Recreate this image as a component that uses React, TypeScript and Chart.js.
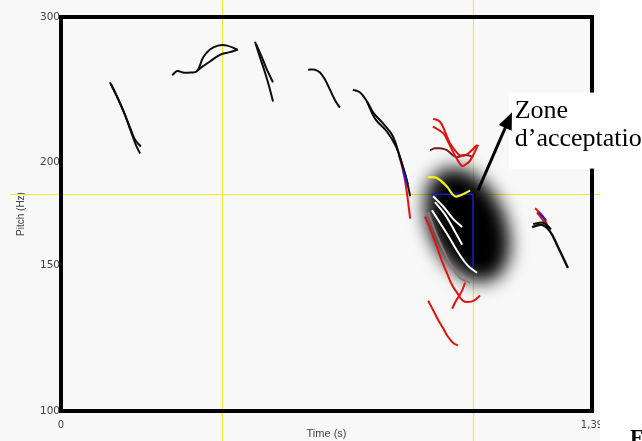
import React, { useEffect, useRef } from "react";
import { Chart, registerables } from "chart.js";

Chart.register(...registerables);

type P = [number, number];

// ---- axis ticks ----
const timeTicks = [0, 1.39];
const timeTickLabels = ["0", "1,39"];
const pitchTicks = [100, 150, 200, 300];
const pitchTickLabels = ["100", "150", "200", "300"];

// ---- guide values ----
const guideTimes = [0.4215, 1.0785];
const guidePitch = 183;
const zoneCenter: P = [1.064, 168];
const zoneEdgeH: P[] = [[0.97, 183], [1.0785, 183]];
const zoneEdgeV: P[] = [[1.0785, 183], [1.0785, 149]];
const arrowFrom: P = [1.0916, 185];
const arrowTo: P = [1.1806, 230];
const labelBoxCorner: P = [1.172, 243];
const labelLines = ["Zone", "d\u2019acceptatio"];

// ---- pitch contours (time s, pitch Hz) ----
const contour1a: P[] = [[0.128, 250], [0.147, 240], [0.165, 230], [0.183, 218], [0.196, 210], [0.207, 205]];
const contour1b: P[] = [[0.131, 249], [0.149, 239], [0.168, 228], [0.183, 219], [0.194, 213], [0.209, 209]];
const contour2a: P[] = [[0.291, 255], [0.304, 258], [0.319, 257], [0.338, 257], [0.356, 258], [0.372, 268], [0.39, 274], [0.411, 277], [0.435, 277], [0.461, 274]];
const contour2b: P[] = [[0.356, 258], [0.364, 260], [0.39, 265], [0.416, 270], [0.442, 272], [0.463, 274]];
const contour3a: P[] = [[0.508, 280], [0.521, 268], [0.534, 257], [0.545, 247], [0.555, 237]];
const contour3b: P[] = [[0.511, 278], [0.526, 268], [0.539, 259], [0.555, 250]];
const contour4: P[] = [[0.647, 259], [0.665, 259], [0.678, 257], [0.691, 252], [0.704, 245], [0.717, 238], [0.73, 233]];
const contour5a: P[] = [[0.764, 245], [0.783, 243], [0.801, 237], [0.817, 230], [0.843, 223], [0.869, 215], [0.887, 203], [0.903, 192], [0.914, 182]];
const contour5b: P[] = [[0.801, 237], [0.822, 226], [0.853, 218], [0.877, 209], [0.893, 199], [0.908, 188]];
const contour5red: P[] = [[0.885, 204], [0.898, 193], [0.906, 183], [0.914, 171]];
const contour5blue: P[] = [[0.895, 196], [0.906, 188]];

const redA: P[] = [[0.974, 226], [0.992, 224], [1.005, 218], [1.018, 211], [1.031, 207], [1.044, 204], [1.058, 204], [1.071, 206], [1.089, 210]];
const redB: P[] = [[0.974, 221], [1.0, 217], [1.013, 212], [1.026, 206], [1.039, 201], [1.05, 198], [1.06, 199], [1.071, 201], [1.092, 210]];
const darkRedC: P[] = [[0.966, 207], [0.979, 208], [0.992, 208], [1.01, 207], [1.026, 204], [1.039, 203], [1.052, 204], [1.065, 204], [1.079, 203]];
const yellowTarget: P[] = [[0.961, 192], [0.984, 191.5], [1.01, 187], [1.031, 182], [1.052, 183], [1.071, 185]];
const white1: P[] = [[0.974, 182], [1.0, 177], [1.026, 171], [1.05, 167]];
const white2: P[] = [[0.979, 179], [1.005, 173], [1.031, 165], [1.05, 159]];
const white3: P[] = [[0.971, 175], [0.992, 169], [1.01, 164], [1.044, 154.5], [1.065, 150], [1.089, 147]];
const grayCurve: P[] = [[0.961, 174], [0.987, 162], [1.018, 151], [1.044, 145], [1.071, 143]];
const redD: P[] = [[0.953, 172], [0.969, 165], [0.984, 158], [0.997, 152], [1.01, 147], [1.024, 142], [1.037, 139], [1.052, 136], [1.065, 135.5], [1.081, 136], [1.097, 138]];
const redE: P[] = [[1.058, 143], [1.047, 139], [1.034, 136], [1.024, 133]];
const redF: P[] = [[0.961, 136], [0.974, 132.5], [0.987, 129], [1.0, 126], [1.013, 123], [1.026, 121], [1.039, 120]];

const lastA: P[] = [[1.233, 167], [1.259, 168], [1.28, 165], [1.301, 158], [1.327, 149]];
const lastB: P[] = [[1.236, 168.4], [1.262, 169], [1.283, 166]];
const lastRed1: P[] = [[1.241, 176], [1.262, 172], [1.275, 167]];
const lastRed2: P[] = [[1.246, 174], [1.267, 169]];
const lastBlue: P[] = [[1.251, 174], [1.27, 170]];

const BLACK = "#0d0d0d";
const RED = "#e2120f";
const DARKRED = "#7e1a1a";
const GRAY = "#8c7676";
const WHITE = "#ffffff";
const YELLOW = "#f4ee1c";
const BLUE = "#1b1bd0";
const GUIDE = "#eded2a";

const seriesList: { data: P[]; color: string; width: number }[] = [
  { data: yellowTarget, color: YELLOW, width: 2.2 },
  { data: white1, color: WHITE, width: 2 },
  { data: white2, color: WHITE, width: 2 },
  { data: white3, color: WHITE, width: 2 },
  { data: grayCurve, color: GRAY, width: 2 },
  { data: redA, color: RED, width: 2 },
  { data: redB, color: RED, width: 2 },
  { data: darkRedC, color: DARKRED, width: 2 },
  { data: redD, color: RED, width: 2 },
  { data: redE, color: RED, width: 2 },
  { data: redF, color: RED, width: 2 },
  { data: contour1a, color: BLACK, width: 2 },
  { data: contour1b, color: BLACK, width: 2 },
  { data: contour2a, color: BLACK, width: 2 },
  { data: contour2b, color: BLACK, width: 2 },
  { data: contour3a, color: BLACK, width: 2 },
  { data: contour3b, color: BLACK, width: 2 },
  { data: contour4, color: BLACK, width: 2 },
  { data: contour5blue, color: BLUE, width: 2 },
  { data: contour5a, color: BLACK, width: 2 },
  { data: contour5b, color: BLACK, width: 2 },
  { data: contour5red, color: RED, width: 2 },
  { data: lastA, color: BLACK, width: 2.4 },
  { data: lastB, color: BLACK, width: 2 },
  { data: lastBlue, color: BLUE, width: 2 },
  { data: lastRed1, color: RED, width: 2 },
  { data: lastRed2, color: RED, width: 2 },
];

const W = 642;
const H = 441;
const SHOT_RIGHT = 600;

const backgroundPlugin = {
  id: "bgFill",
  beforeDraw(chart: any) {
    const ctx = chart.ctx;
    ctx.save();
    ctx.fillStyle = "#f8f8f8";
    ctx.fillRect(0, 0, SHOT_RIGHT, H);
    ctx.fillStyle = "#ffffff";
    ctx.fillRect(SHOT_RIGHT, 0, W - SHOT_RIGHT, H);
    ctx.restore();
  },
};

const guidesPlugin = {
  id: "guides",
  beforeDatasetsDraw(chart: any) {
    const ctx = chart.ctx;
    const xs = chart.scales.x;
    const ys = chart.scales.y;
    ctx.save();
    // yellow cursor lines
    ctx.strokeStyle = GUIDE;
    ctx.lineWidth = 1.2;
    for (const t of guideTimes) {
      const px = Math.round(xs.getPixelForValue(t)) + 0.5;
      ctx.beginPath();
      ctx.moveTo(px, 0);
      ctx.lineTo(px, H);
      ctx.stroke();
    }
    const py = Math.round(ys.getPixelForValue(guidePitch)) + 0.5;
    ctx.beginPath();
    ctx.moveTo(10, py);
    ctx.lineTo(SHOT_RIGHT, py);
    ctx.stroke();

    // blurred acceptance zone
    const cx = xs.getPixelForValue(zoneCenter[0]);
    const cy = ys.getPixelForValue(zoneCenter[1]);
    ctx.filter = "blur(9px)";
    ctx.fillStyle = "#000000";
    ctx.beginPath();
    ctx.ellipse(cx, cy, 38, 60, -0.42, 0, Math.PI * 2);
    ctx.fill();
    ctx.filter = "none";

    // blue zone edges
    ctx.strokeStyle = BLUE;
    ctx.lineWidth = 1.5;
    for (const seg of [zoneEdgeH, zoneEdgeV]) {
      ctx.beginPath();
      ctx.moveTo(xs.getPixelForValue(seg[0][0]), ys.getPixelForValue(seg[0][1]));
      ctx.lineTo(xs.getPixelForValue(seg[1][0]), ys.getPixelForValue(seg[1][1]));
      ctx.stroke();
    }
    ctx.restore();
  },
};

const overlayPlugin = {
  id: "overlay",
  afterDatasetsDraw(chart: any) {
    const ctx = chart.ctx;
    const xs = chart.scales.x;
    const ys = chart.scales.y;
    const a = chart.chartArea;
    ctx.save();
    // thick frame
    ctx.strokeStyle = "#000";
    ctx.lineWidth = 4;
    ctx.strokeRect(a.left, a.top, a.right - a.left, a.bottom - a.top);

    // page area outside the screenshot
    ctx.fillStyle = "#ffffff";
    ctx.fillRect(SHOT_RIGHT, 0, W - SHOT_RIGHT, H);

    // label box
    const bx = xs.getPixelForValue(labelBoxCorner[0]);
    const by = ys.getPixelForValue(labelBoxCorner[1]);
    ctx.fillStyle = "#ffffff";
    ctx.fillRect(bx, by, W - bx, 76);
    ctx.fillStyle = "#000";
    ctx.font = '26px "Liberation Serif", serif';
    ctx.textBaseline = "alphabetic";
    ctx.textAlign = "left";
    ctx.fillText(labelLines[0], bx + 6, by + 25);
    ctx.fillText(labelLines[1], bx + 6, by + 53);

    // arrow
    const sx = xs.getPixelForValue(arrowFrom[0]);
    const sy = ys.getPixelForValue(arrowFrom[1]);
    const tx = xs.getPixelForValue(arrowTo[0]);
    const ty = ys.getPixelForValue(arrowTo[1]);
    const ang = Math.atan2(ty - sy, tx - sx);
    const hl = 17;
    const hw = 7;
    ctx.strokeStyle = "#000";
    ctx.lineWidth = 3;
    ctx.beginPath();
    ctx.moveTo(sx, sy);
    ctx.lineTo(tx - Math.cos(ang) * hl * 0.8, ty - Math.sin(ang) * hl * 0.8);
    ctx.stroke();
    const bxh = tx - Math.cos(ang) * hl;
    const byh = ty - Math.sin(ang) * hl;
    ctx.fillStyle = "#000";
    ctx.beginPath();
    ctx.moveTo(tx, ty);
    ctx.lineTo(bxh + Math.sin(ang) * hw, byh - Math.cos(ang) * hw);
    ctx.lineTo(bxh - Math.sin(ang) * hw, byh + Math.cos(ang) * hw);
    ctx.closePath();
    ctx.fill();

    // cut-off letter of the page
    ctx.font = 'bold 22px "Liberation Serif", serif';
    ctx.fillText("F", 630, 444);
    ctx.restore();
  },
};

export default function App() {
  const ref = useRef<HTMLCanvasElement | null>(null);
  useEffect(() => {
    const canvas = ref.current;
    if (!canvas) return;
    const chart = new Chart(canvas, {
      type: "scatter",
      data: {
        datasets: seriesList.map((s, i) => ({
          label: "c" + i,
          data: s.data.map(([x, y]) => ({ x, y })),
          showLine: true,
          borderColor: s.color,
          backgroundColor: s.color,
          borderWidth: s.width,
          pointRadius: 0,
          pointHoverRadius: 0,
          tension: 0.4,
          fill: false,
        })),
      },
      options: {
        responsive: false,
        animation: false,
        devicePixelRatio: 1,
        layout: { padding: { left: 0, right: W - 592, top: 17, bottom: 0 } },
        plugins: { legend: { display: false }, tooltip: { enabled: false }, title: { display: false } },
        scales: {
          x: {
            type: "linear",
            min: 0,
            max: 1.39,
            grid: { display: false, drawTicks: false },
            border: { display: false },
            afterBuildTicks: (s: any) => {
              s.ticks = timeTicks.map((v) => ({ value: v }));
            },
            afterFit: (s: any) => {
              s.height = 30;
            },
            ticks: {
              autoSkip: false,
              maxRotation: 0,
              padding: 8,
              color: "#444",
              font: { family: "DejaVu Sans", size: 10 },
              callback: (_v: any, i: number) => timeTickLabels[i],
            },
            title: {
              display: true,
              text: "Time (s)",
              color: "#444",
              font: { family: "Liberation Sans", size: 11 },
              padding: { top: 0, bottom: 0 },
            },
          },
          y: {
            type: "logarithmic",
            min: 100,
            max: 300,
            grid: { display: false, drawTicks: false },
            border: { display: false },
            afterBuildTicks: (s: any) => {
              s.ticks = pitchTicks.map((v) => ({ value: v }));
            },
            afterFit: (s: any) => {
              s.width = 61;
            },
            ticks: {
              autoSkip: false,
              padding: 1,
              color: "#444",
              font: { family: "DejaVu Sans", size: 10.5 },
              callback: (_v: any, i: number) => pitchTickLabels[i],
            },
            title: {
              display: true,
              text: "Pitch (Hz)",
              color: "#444",
              font: { family: "Liberation Sans", size: 10 },
              padding: { top: 15, bottom: 0 },
            },
          },
        },
      },
      plugins: [backgroundPlugin, guidesPlugin, overlayPlugin],
    } as any);
    return () => chart.destroy();
  }, []);
  return (
    <div style={{ position: "fixed", left: 0, top: 0, width: W, height: H }}>
      <canvas ref={ref} width={W} height={H} style={{ display: "block", width: W, height: H }} />
    </div>
  );
}
